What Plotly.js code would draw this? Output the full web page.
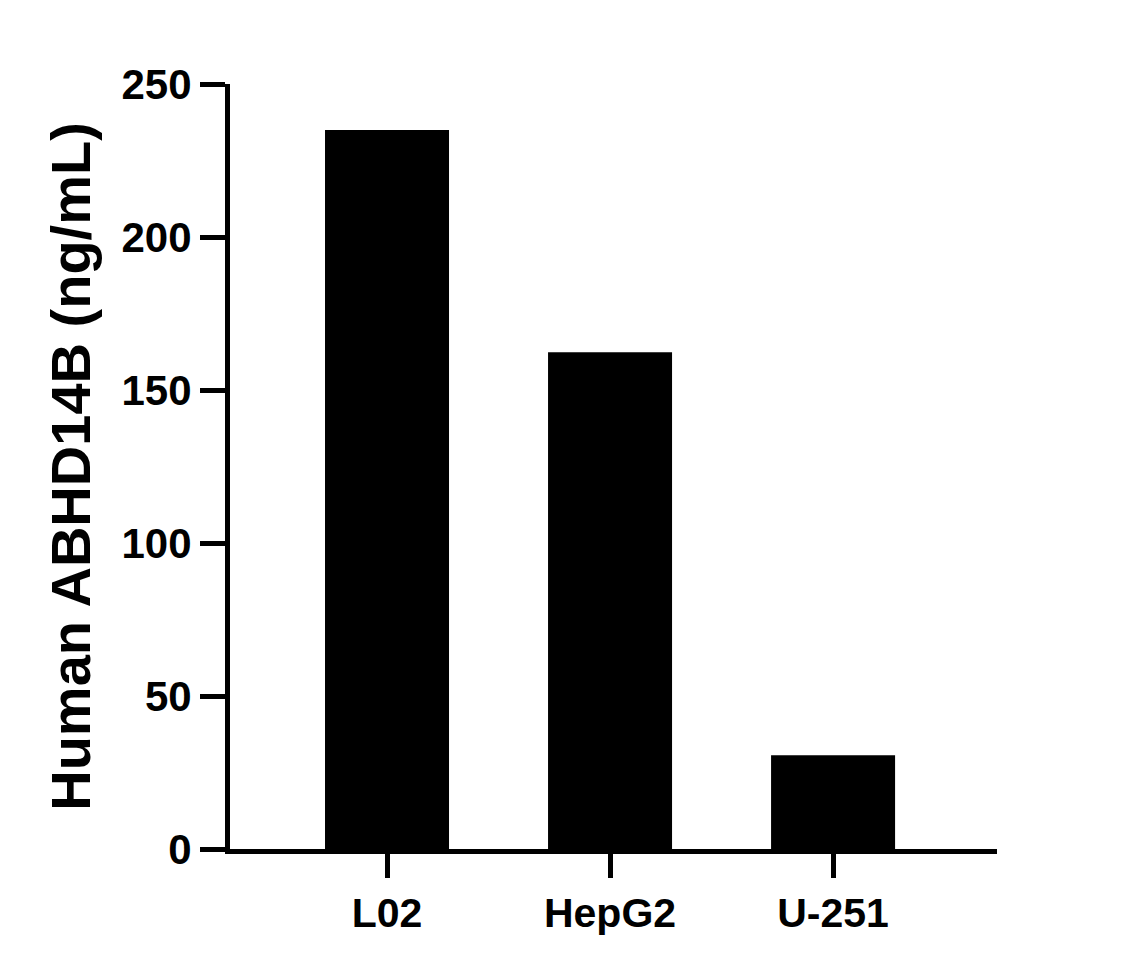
<!DOCTYPE html>
<html>
<head>
<meta charset="utf-8">
<script src="https://cdn.plot.ly/plotly-3.0.1.min.js"></script>
<style>
  html, body { margin: 0; padding: 0; background: #fff; }
  #plotDiv { width: 1132px; height: 967px; }
</style>
</head>
<body>
<div id="plotDiv"></div>
<script>
/* ---- data ---- */
const cellLines = ['L02', 'HepG2', 'U-251'];
const abhd14b = [235, 162.3, 30.6];
const yTicks = [0, 50, 100, 150, 200, 250];

const FONT = 'Liberation Sans, Arial, Helvetica, sans-serif';

const data = [{
    type: 'bar',
    x: cellLines,
    y: abhd14b,
    width: 0.556,
    marker: { color: '#000', line: { width: 0 } },
    hoverinfo: 'skip',
}];

const layout = {
    width: 1132,
    height: 967,
    margin: { l: 230, r: 135, t: 84, b: 118 },
    paper_bgcolor: '#fff',
    plot_bgcolor: '#fff',
    showlegend: false,
    font: { family: FONT, color: '#000', weight: 'bold' },
    xaxis: {
        type: 'category',
        range: [-0.704, 2.735],
        showline: true,
        linecolor: '#000',
        linewidth: 5,
        showgrid: false,
        zeroline: false,
        ticks: 'outside',
        ticklen: 24,
        tickwidth: 5,
        tickcolor: '#000',
        tickfont: { family: FONT, size: 41, color: '#000', weight: 'bold' },
        fixedrange: true,
    },
    yaxis: {
        range: [0, 250],
        tickvals: yTicks,
        ticktext: yTicks.map(String),
        showline: true,
        linecolor: '#000',
        linewidth: 5,
        showgrid: false,
        zeroline: false,
        ticks: 'outside',
        ticklen: 25,
        tickwidth: 5,
        tickcolor: '#000',
        tickfont: { family: FONT, size: 42, color: '#000', weight: 'bold' },
        title: {
            text: 'Human ABHD14B (ng/mL)',
            font: { family: FONT, size: 56, color: '#000', weight: 'bold' },
            standoff: 14,
        },
        fixedrange: true,
    },
};

Plotly.newPlot('plotDiv', data, layout, { displayModeBar: false, staticPlot: true });
</script>
</body>
</html>
